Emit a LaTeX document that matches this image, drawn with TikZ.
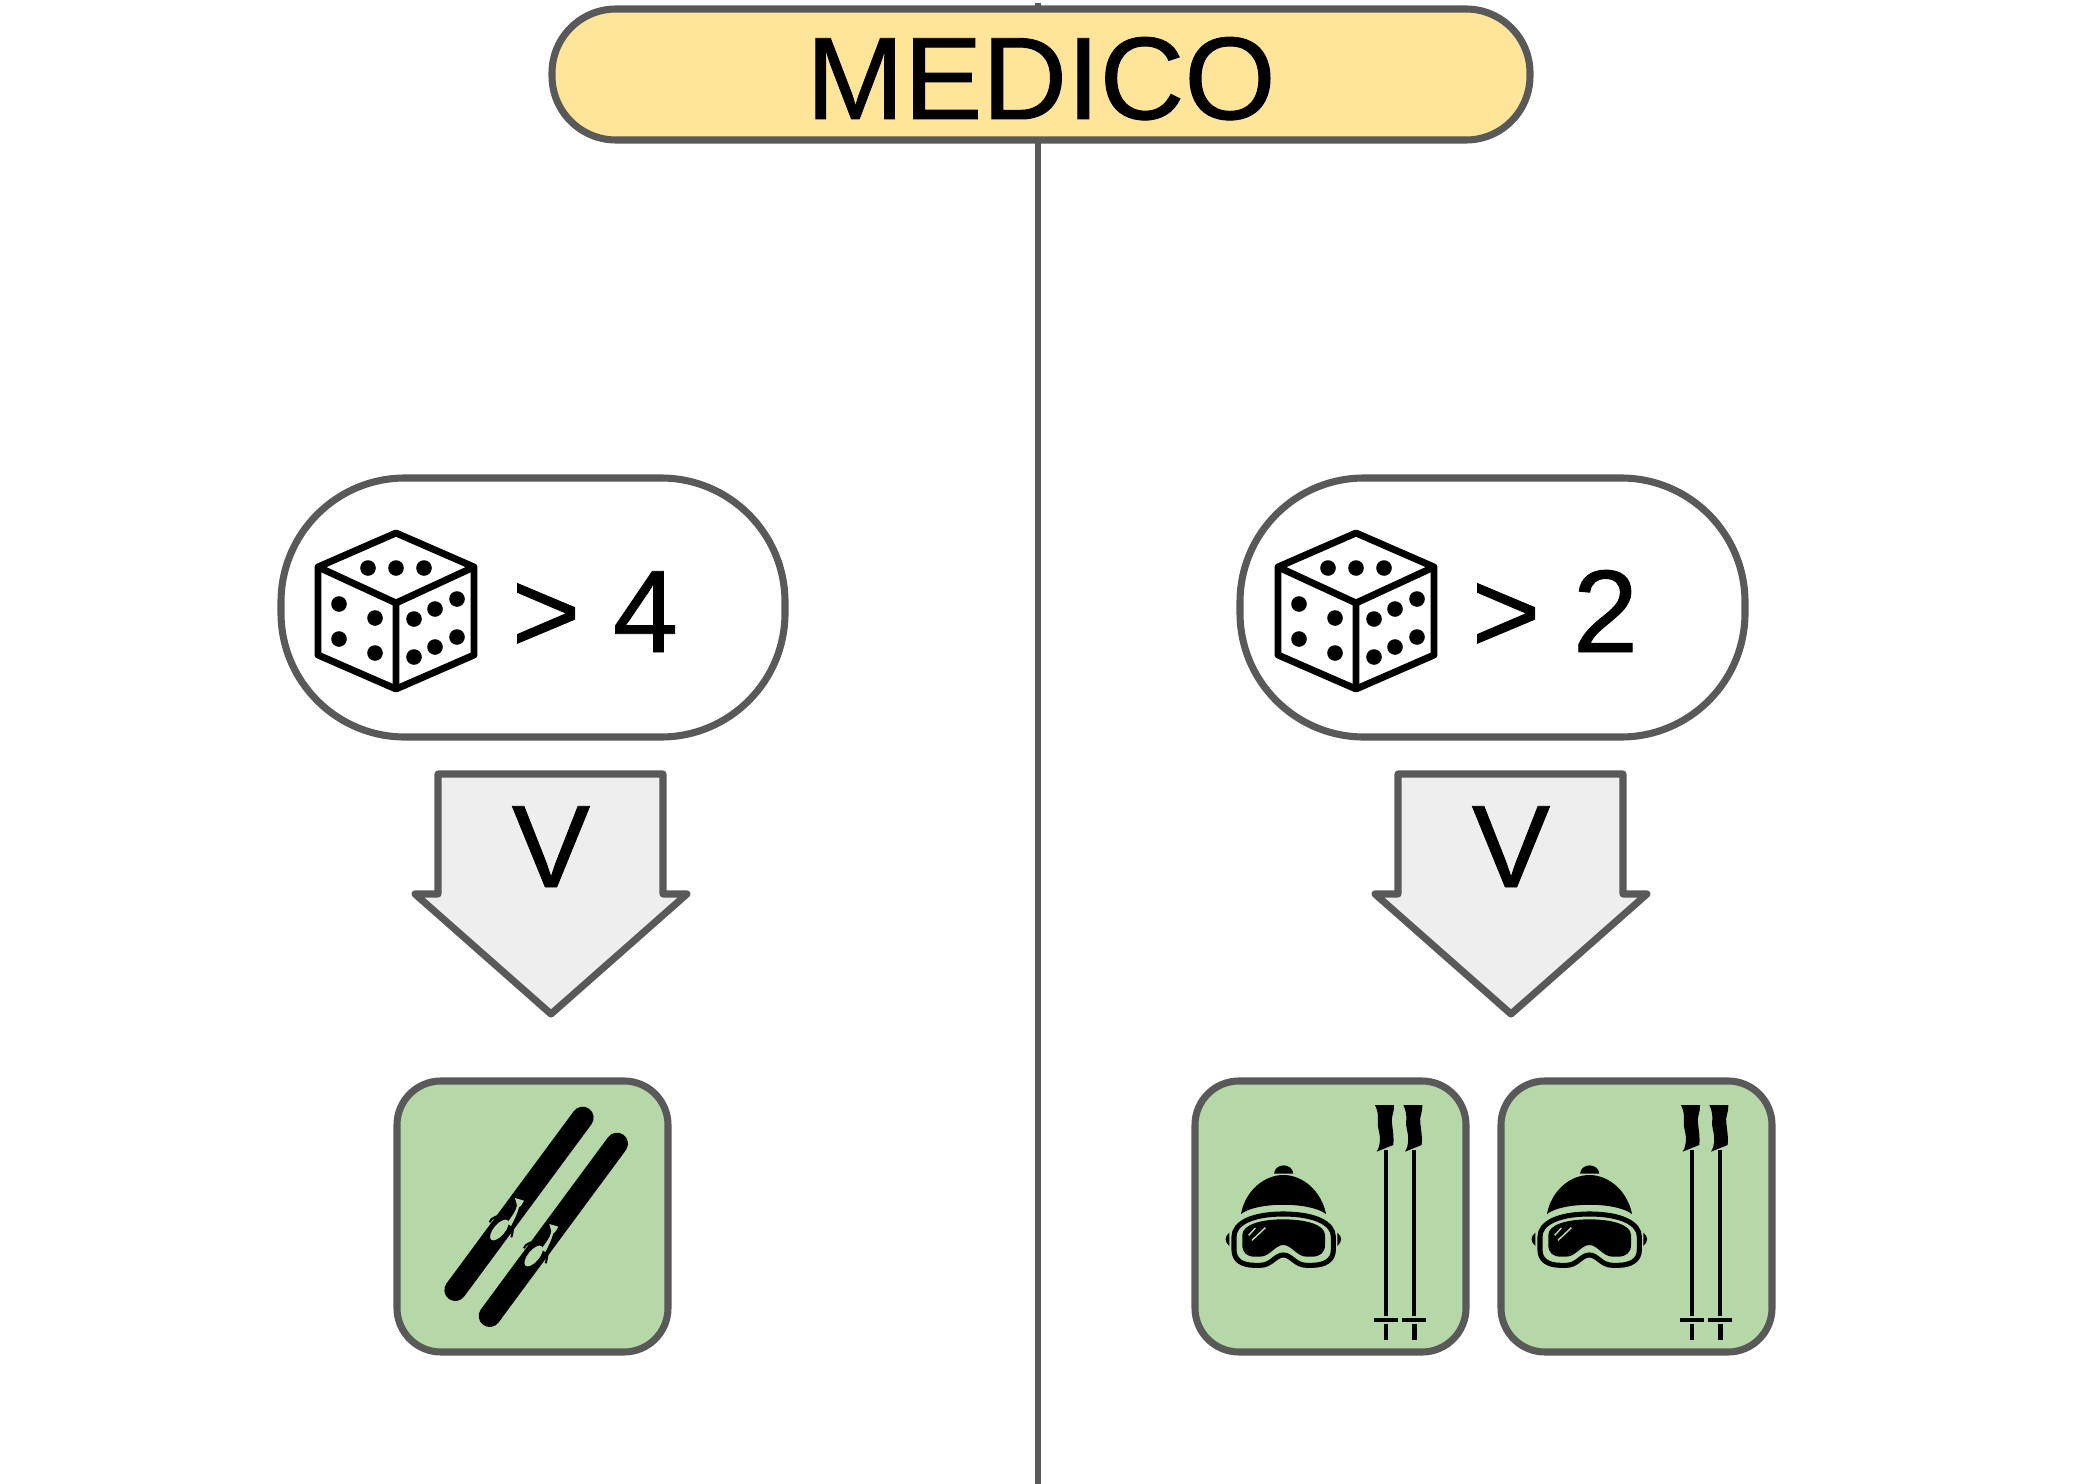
\documentclass[tikz,border=0pt]{standalone}
\usepackage{fontspec}
\setmainfont[FakeBold=0.8]{Liberation Sans}
\definecolor{edgegrey}{HTML}{595959}
\definecolor{titleyellow}{HTML}{FFE599}
\definecolor{boxgreen}{HTML}{B6D7A8}
\definecolor{arrowgrey}{HTML}{EEEEEE}
\tikzset{every picture/.style={line width=0.75pt},
  bigtext/.style={anchor=base,inner sep=0.75pt,font=\fontsize{88}{100}\selectfont},
  greyline/.style={draw=edgegrey,line width=5.3pt,line join=round},
  itembox/.style={greyline,fill=boxgreen,rounded corners=33pt}
}
\newcommand{\dicepic}[2]{\begin{scope}[shift={(#1,#2)}]
  \draw[line width=5.2pt,line join=round,fill=white] (0,-78) -- (78,-44) -- (78,44) -- (0,78) -- (-78,44) -- (-78,-44) -- cycle;
  \draw[line width=5.2pt,line join=round] (-78,-44) -- (0,-8) -- (78,-44) (0,-8) -- (0,78);
  \foreach \dotx/\doty in {-28/-43,0/-43,28/-43,-57/-7,-21/7,-57/28,-21/42,18/8,39/-2,61/-12,18/46,39/36,61/26}
    \fill (\dotx,\doty) circle (7.8);
\end{scope}}
\newcommand{\downarrowpic}[2]{\begin{scope}[shift={(#1,#2)}]
  \draw[greyline,fill=arrowgrey] (-113,-240) -- (112,-240) -- (112,-120) -- (136,-120) -- (0,0) -- (-136,-120) -- (-113,-120) -- cycle;
\end{scope}}
\newcommand{\bindingpic}[2]{\begin{scope}[shift={(#1,#2)}]
  \fill[boxgreen,rotate around={-50:(358,510)}] (358,510) ellipse [x radius=38,y radius=17];
  \fill[boxgreen] (405,414) -- (432,422) -- (424,436) -- (417,442) .. controls (412,460) and (405,475) .. (393,498) -- (380,490) .. controls (395,470) and (408,455) .. (411,436) -- cycle;
  \draw[line width=1.5pt] (329,487) .. controls (332,472) and (350,472) .. (368,460);
  \draw[line width=1.5pt] (394,532) .. controls (400,515) and (396,505) .. (408,480);
\end{scope}}
\newcommand{\polepic}[2]{\begin{scope}[shift={(#1,#2)}]
  % grip
  \fill (-33,-645) -- (24,-645) .. controls (26,-625) and (14,-610) .. (18,-590) .. controls (20,-570) and (24,-555) .. (22,-525) -- (-28,-505) .. controls (-16,-525) and (-16,-545) .. (-22,-570) .. controls (-30,-590) and (-16,-610) .. cycle;
  \draw[line width=3pt] (0,-510) -- (0,-12);
  \draw[line width=3.4pt] (-36,0) -- (36,0);
  \draw[line width=3.4pt] (0,12) -- (0,60);
\end{scope}}
\newcommand{\gearpic}[2]{\begin{scope}[shift={(#1,#2)},scale=1/3]
  %hat
  \fill (282,341) .. controls (285,308) and (337,308) .. (340,341) -- cycle;
  \fill (183,462) .. controls (195,395) and (250,345) .. (310,345) .. controls (370,345) and (425,395) .. (438,462) .. controls (390,425) and (230,425) .. (183,462) -- cycle;
  %ear tabs
  \fill (148,518) .. controls (133,530) and (133,545) .. (148,558) -- cycle;
  \fill (472,518) .. controls (487,530) and (487,545) .. (472,558) -- cycle;
  %goggles
  \draw[line width=3.8pt,fill=boxgreen] (162,530) .. controls (162,490) and (215,462) .. (310,462) .. controls (405,462) and (460,490) .. (460,530) -- (460,570) .. controls (460,600) and (435,616) .. (395,616) -- (380,616) .. controls (345,616) and (335,585) .. (310,585) .. controls (285,585) and (275,616) .. (240,616) -- (225,616) .. controls (185,616) and (162,600) .. (162,570) -- cycle;
  \fill (187,525) .. controls (187,495) and (240,478) .. (310,478) .. controls (380,478) and (435,495) .. (435,525) -- (435,555) .. controls (435,578) and (420,590) .. (395,590) -- (380,590) .. controls (350,590) and (335,555) .. (310,555) .. controls (285,555) and (270,590) .. (240,590) -- (225,590) .. controls (200,590) and (187,578) .. (187,555) -- cycle;
  \draw[boxgreen,line width=1.1pt] (206,526) -- (226,504) (216,541) -- (256,503);
  %poles
  \polepic{618}{780}
  \polepic{703}{780}
\end{scope}}
\begin{document}
\begin{tikzpicture}[x=0.75pt,y=0.75pt,yscale=-1,xscale=1]
\useasboundingbox (0,0) rectangle (2075,1484);

%Straight Lines: centre line
\draw[draw=edgegrey,line width=4.3pt] (1038,3) -- (1038,1484);

%Shape: Rounded Rect, title
\draw[greyline,fill=titleyellow,rounded corners=48pt] (552,9) rectangle (1530,140);
% Text Node
\node (medicoLabel) [bigtext] at (1041,119) {MEDICO};

%Shape: Rounded Rect, left and right condition
\draw[greyline,fill=white,rounded corners=93pt] (281,478) rectangle (785,737);
\draw[greyline,fill=white,rounded corners=93pt] (1240,478) rectangle (1745,737);
%Dice
\dicepic{396}{611}
\dicepic{1356}{611}
% Text Node
\node (leftCond) [bigtext] at (595,652) {> 4};
\node (rightCond) [bigtext] at (1555,652) {> 2};

%Arrows
\downarrowpic{551}{1014}
\downarrowpic{1511}{1014}
% Text Node
\node (leftVee) [bigtext] at (551,887) {V};
\node (rightVee) [bigtext] at (1511,887) {V};

%Shape: Rounded Rect, green items
\draw[itembox] (397,1081) rectangle (668,1352);
\draw[itembox] (1195,1081) rectangle (1466,1352);
\draw[itembox] (1501,1081) rectangle (1772,1352);
%Skis
\begin{scope}[shift={(380,1060)},scale=1/3]
\draw[line width=16.5pt,line cap=round] (608,173) -- (226,690);
\draw[line width=16.5pt,line cap=round] (711,251) -- (329,768);
\bindingpic{0}{0}
\bindingpic{103}{78}
\end{scope}
%Goggles and poles
\gearpic{1180}{1060}
\gearpic{1486}{1060}

\end{tikzpicture}
\end{document}
